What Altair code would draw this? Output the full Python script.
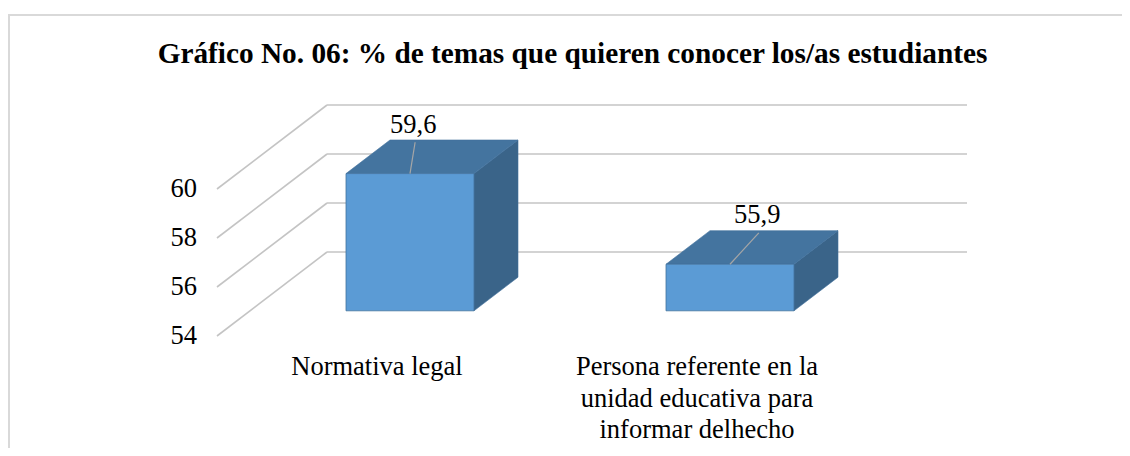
import altair as alt
import pandas as pd

# ---- data ----
CATEGORIES = ["Normativa legal",
              "Persona referente en la\nunidad educativa para\ninformar delhecho"]
VALUES = [59.6, 55.9]
VALUE_LABELS = ["59,6", "55,9"]
TICKS = [54, 56, 58, 60]
TITLE = "Gráfico No. 06: % de temas que quieren conocer los/as estudiantes"

# ---- oblique 3D projection parameters (style) ----
BASE = 54.0
DEPTH_DU = 0.34375      # category units shift from back to front
DEPTH_DV = 3.4286       # value units shift from back to front
BAR_HALF = 0.2
BAR_D0, BAR_D1 = 0.3, 0.7
LABEL_RISE = 2.0
LEADER_GAP = 0.72
LABEL_SHIFT = [0.01, 0.085]
LEADER_SHIFT = [0.016, 0.09]

FONT = "Liberation Serif"
FRONT_C = "#5B9BD5"
TOP_C = "#44749F"
SIDE_C = "#3A6489"
EDGE_C = "#41719C"
GRID_C = "#C4C4C4"


def proj(u, v, d):
    return u - (1 - d) * DEPTH_DU, v - (1 - d) * DEPTH_DV


XS = alt.Scale(domain=[-0.996875, 2.484375], nice=False, zero=False)
YS = alt.Scale(domain=[46.0, 63.959], nice=False, zero=False)


def X(f):
    return alt.X(f, type="quantitative", scale=XS, axis=None)


def Y(f):
    return alt.Y(f, type="quantitative", scale=YS, axis=None, stack=None)


# gridlines on back wall and left wall
grid_rows = []
for t in TICKS:
    x0, y0 = proj(0, t, 1)
    x1, y1 = proj(len(CATEGORIES), t, 1)
    grid_rows.append(dict(x=x0, y=y0, x2=x1, y2=y1))
    fx, fy = proj(0, t, 0)
    grid_rows.append(dict(x=fx, y=fy, x2=x0, y2=y0))
grid = pd.DataFrame(grid_rows)

tick_rows = []
for t in TICKS:
    fx, fy = proj(0, t, 0)
    tick_rows.append(dict(x=fx, y=fy, label=str(t)))
ticks_df = pd.DataFrame(tick_rows)

front_rows, top_rows, side_rows, lab_rows, cat_rows = [], [], [], [], []
for i, (cat, v, lab) in enumerate(zip(CATEGORIES, VALUES, VALUE_LABELS)):
    c = i + 0.5
    xl, yb = proj(c - BAR_HALF, BASE, BAR_D0)
    xr, yt = proj(c + BAR_HALF, v, BAR_D0)
    front_rows.append(dict(cat=i, x=xl, x2=xr, y=yb, y2=yt))
    for d in (BAR_D0, BAR_D1):
        a, ty = proj(c - BAR_HALF, v, d)
        b, _ = proj(c + BAR_HALF, v, d)
        top_rows.append(dict(cat=i, y=ty, x=a, x2=b))
        sx, sb = proj(c + BAR_HALF, BASE, d)
        _, st = proj(c + BAR_HALF, v, d)
        side_rows.append(dict(cat=i, x=sx, y=sb, y2=st))
    cx, cy = proj(c, v, BAR_D0)
    lab_rows.append(dict(cat=i, label=lab,
                         lx=cx + LABEL_SHIFT[i], ly=cy + LABEL_RISE,
                         x=cx, y=cy,
                         x2=cx + LEADER_SHIFT[i], y2=cy + LABEL_RISE - LEADER_GAP))
    fx, fy = proj(c, BASE, 0)
    cat_rows.append(dict(x=fx, y=fy, label=cat))

front = pd.DataFrame(front_rows)
top = pd.DataFrame(top_rows)
side = pd.DataFrame(side_rows)
labs = pd.DataFrame(lab_rows)
cats = pd.DataFrame(cat_rows)

frame = alt.Chart(pd.DataFrame({"k": [0]})).mark_rect(
    fill=None, stroke="#D9D9D9", strokeWidth=2
).encode(x=alt.value(1), y=alt.value(7), x2=alt.value(1300), y2=alt.value(700))

title = alt.Chart(pd.DataFrame({"t": [TITLE]})).mark_text(
    font=FONT, fontSize=29.3, fontWeight="bold", color="#000000",
    align="center", baseline="alphabetic"
).encode(x=alt.value(564.5), y=alt.value(55), text="t:N")

grid_l = alt.Chart(grid).mark_rule(color=GRID_C, strokeWidth=1.6).encode(
    x=X("x"), y=Y("y"), x2="x2", y2="y2")

tick_l = alt.Chart(ticks_df).mark_text(
    font=FONT, fontSize=26.5, align="right", baseline="middle", dx=-20, color="#000000"
).encode(x=X("x"), y=Y("y"), text="label:N")

front_l = alt.Chart(front).mark_rect(color=FRONT_C, stroke=EDGE_C, strokeWidth=0.8).encode(
    x=X("x"), x2="x2", y=Y("y"), y2="y2")

top_l = alt.Chart(top).mark_area(orient="horizontal", color=TOP_C, stroke=EDGE_C,
                                 strokeWidth=0.6).encode(
    y=Y("y"), x=X("x"), x2="x2", detail="cat:N")

side_l = alt.Chart(side).mark_area(orient="vertical", color=SIDE_C, stroke=EDGE_C,
                                   strokeWidth=0.6).encode(
    x=X("x"), y=Y("y"), y2="y2", detail="cat:N")

leader_l = alt.Chart(labs).mark_rule(color="#A6A6A6", strokeWidth=1.2).encode(
    x=X("x"), y=Y("y"), x2="x2", y2="y2")

label_l = alt.Chart(labs).mark_text(
    font=FONT, fontSize=26.5, align="center", baseline="middle", color="#000000"
).encode(x=X("lx"), y=Y("ly"), text="label:N")

cat_l = alt.Chart(cats).mark_text(
    font=FONT, fontSize=26.5, align="center", baseline="alphabetic",
    dy=39, lineHeight=31.7, lineBreak="\n", color="#000000"
).encode(x=X("x"), y=Y("y"), text="label:N")

chart = alt.layer(
    frame, title, grid_l, tick_l, side_l, top_l, front_l, leader_l, label_l, cat_l
).properties(
    width=1114, height=440,
    autosize=alt.AutoSizeParams(type="none"),
    padding=0,
    background="#FFFFFF",
).configure_view(stroke=None)

chart.save("out.html", embed_options={"renderer": "svg", "actions": False})
